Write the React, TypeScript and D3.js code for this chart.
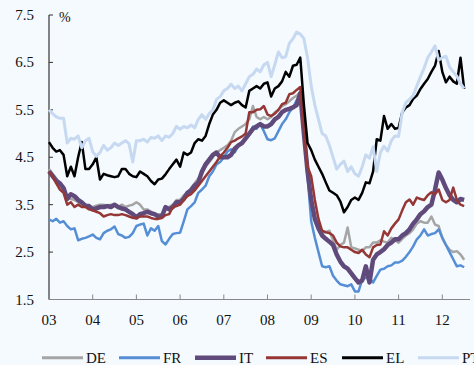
import React from 'react';
import * as d3 from 'd3';

// monthly values, Jan 2003 .. Jul 2012
const DE = [
  4.25, 4.15, 4.05, 3.95, 3.85, 3.65, 3.62, 3.6, 3.55, 3.5, 3.5, 3.45,
  3.45, 3.48, 3.5, 3.5, 3.48, 3.5, 3.5, 3.45, 3.5, 3.45, 3.48, 3.5,
  3.55, 3.5, 3.4, 3.4, 3.35, 3.3, 3.3, 3.3, 3.4, 3.45, 3.5, 3.6,
  3.6, 3.7, 3.75, 3.85, 3.95, 4.05, 4.15, 4.3, 4.4, 4.5, 4.6, 4.65,
  4.7, 4.75, 4.85, 5.03, 5.1, 5.15, 5.2, 5.3, 5.58, 5.35, 5.3, 5.35,
  5.3, 5.35, 5.45, 5.5, 5.58, 5.62, 5.68, 5.75, 5.8, 5.87, 5.0, 4.2,
  3.6, 3.2, 3.05, 2.91, 2.92, 2.95, 2.75, 2.55, 2.65, 2.7, 3.02, 2.6,
  2.58, 2.55, 2.52, 2.6, 2.6, 2.7, 2.7, 2.75, 2.72, 2.7, 2.8, 2.75,
  2.7, 2.78, 2.85, 2.9, 2.98, 3.1, 3.15, 3.12, 3.12, 3.25, 3.08, 3.05,
  2.8, 2.65, 2.55, 2.5, 2.52, 2.45, 2.34,
];
const FR = [
  3.19, 3.15, 3.2, 3.12, 3.15, 3.05, 2.98, 3.0, 2.75, 2.78, 2.8, 2.83,
  2.87, 2.8, 2.77, 2.9, 2.95, 2.98, 3.04, 2.88, 2.85, 2.8, 2.82, 2.9,
  3.05, 3.08, 3.1, 2.85, 3.0, 2.95, 3.05, 2.73, 2.66, 2.78, 2.88, 2.9,
  2.91, 3.15, 3.4, 3.47, 3.55, 3.75, 3.82, 3.9, 4.1, 4.2, 4.35, 4.4,
  4.5, 4.62, 4.67, 4.6, 4.75, 4.82, 4.88, 4.98, 5.15, 5.1, 5.2, 5.05,
  4.88, 4.86, 4.9, 5.05, 5.2, 5.3, 5.45, 5.55, 5.7, 5.83, 5.0, 4.1,
  3.15, 2.8, 2.5, 2.2, 2.18, 2.2, 2.0, 1.9, 1.82, 1.8, 1.78, 1.82,
  1.67, 1.67, 1.92, 1.96, 1.95, 1.86, 2.0, 2.13, 2.15, 2.2, 2.22, 2.28,
  2.28, 2.32, 2.4, 2.5, 2.62, 2.77, 2.85, 2.98, 2.85, 2.88, 2.9, 2.98,
  2.8, 2.65, 2.5, 2.35, 2.2, 2.22, 2.18,
];
const IT = [
  4.2, 4.1, 4.0, 3.95, 3.85, 3.62, 3.72, 3.68, 3.6, 3.55, 3.48, 3.47,
  3.4, 3.42, 3.45, 3.45, 3.47, 3.45, 3.5, 3.45, 3.42, 3.4, 3.35, 3.3,
  3.23, 3.3, 3.32, 3.35, 3.32, 3.3, 3.25, 3.25, 3.45, 3.4, 3.45, 3.55,
  3.55, 3.62, 3.75, 3.8, 3.9, 3.97, 4.2, 4.35, 4.45, 4.55, 4.6, 4.5,
  4.5, 4.5, 4.55, 4.68, 4.75, 4.8, 4.9, 5.0, 5.1, 5.15, 5.2, 5.15,
  5.15, 5.2, 5.3, 5.35, 5.45, 5.5, 5.52, 5.55, 5.6, 5.85, 5.0, 4.2,
  3.6, 3.2, 3.0, 2.85, 2.78, 2.72, 2.65, 2.45, 2.3, 2.2, 2.15, 2.05,
  1.95, 1.86, 1.9, 2.2, 1.86, 2.34, 2.45, 2.5, 2.56, 2.65, 2.7, 2.77,
  2.77, 2.85, 2.9, 2.98, 3.1, 3.19, 3.3, 3.36, 3.45, 3.5, 3.82, 4.18,
  4.03, 3.85, 3.7, 3.6, 3.55, 3.62, 3.6,
];
const ES = [
  4.2, 4.1, 3.95, 3.82, 3.75, 3.5, 3.55, 3.45, 3.5, 3.45, 3.45, 3.4,
  3.38, 3.35, 3.32, 3.25, 3.28, 3.3, 3.28, 3.28, 3.3, 3.28, 3.25, 3.22,
  3.22, 3.25, 3.25, 3.25, 3.22, 3.2, 3.2, 3.22, 3.28, 3.3, 3.45, 3.47,
  3.5, 3.6, 3.68, 3.72, 3.8, 3.9, 4.0, 4.1, 4.2, 4.3, 4.4, 4.52,
  4.6, 4.7, 4.82, 4.85, 4.9, 4.94, 5.0, 5.45, 5.45, 5.5, 5.51, 5.58,
  5.4, 5.37, 5.42, 5.5, 5.62, 5.65, 5.83, 5.85, 5.92, 5.98, 5.1, 4.3,
  4.1, 3.6, 3.2, 2.95, 2.92, 2.9, 2.85, 2.7, 2.62, 2.6, 2.6, 2.55,
  2.5, 2.48, 2.55, 2.45, 2.39, 2.6, 2.65, 2.66, 2.94, 2.85, 3.0, 3.1,
  3.19, 3.38, 3.55, 3.61, 3.5, 3.65, 3.62, 3.6, 3.7, 3.76, 3.72, 3.82,
  3.6, 3.55, 3.6, 3.86, 3.6, 3.5, 3.47,
];
const EL = [
  4.82, 4.7, 4.62, 4.65, 4.55, 4.1, 4.3, 4.1, 4.5, 4.82, 4.25, 4.25,
  4.35, 4.5, 4.03, 4.15, 4.12, 4.1, 4.08, 4.1, 4.25, 4.25, 4.15, 4.1,
  4.08, 4.2, 4.15, 4.1, 4.0, 3.93, 4.03, 4.05, 4.14, 4.25, 4.35, 4.45,
  4.3, 4.6, 4.55, 4.6, 4.8, 4.88, 4.85, 4.95, 5.2, 5.4, 5.5, 5.65,
  5.7, 5.65, 5.6, 5.65, 5.68, 5.6, 5.55, 5.9, 5.95, 6.0, 5.95, 6.05,
  6.08, 5.78, 5.95, 6.0, 6.1, 6.3, 6.2, 6.43, 6.45, 6.6, 5.6, 4.8,
  4.65, 4.45, 4.3, 4.15, 3.97, 3.8, 3.75, 3.7, 3.57, 3.34, 3.45, 3.6,
  3.65, 3.6, 3.75, 3.97, 3.95, 4.2, 4.88, 4.85, 5.37, 5.1, 5.2, 5.1,
  5.12, 5.45, 5.55, 5.6, 5.73, 5.8, 5.94, 6.05, 6.15, 6.3, 6.43, 6.74,
  6.3, 6.08, 6.2, 6.1, 6.05, 6.6, 5.94,
];
const PT = [
  5.5, 5.42, 5.35, 5.32, 5.32, 4.8, 4.9, 4.88, 4.95, 4.7, 4.85, 4.9,
  4.62, 4.52, 4.6, 4.75, 4.65, 4.7, 4.8, 4.75, 4.8, 4.85, 4.78, 4.4,
  4.85, 4.85, 4.88, 4.82, 4.92, 4.9, 4.95, 4.85, 4.95, 4.92, 5.0, 5.15,
  5.09, 5.15, 5.12, 5.18, 5.12, 5.3, 5.4, 5.3, 5.42, 5.5, 5.72, 5.78,
  5.9, 5.95, 6.04, 5.95, 6.0, 5.9, 6.05, 6.2, 6.25, 6.36, 6.3, 6.45,
  6.5, 6.2, 6.45, 6.72, 6.6, 6.62, 6.9, 7.0, 7.14, 7.1, 7.0, 6.6,
  6.0, 5.6, 5.3, 5.0, 4.95, 4.75, 4.5, 4.25, 4.35, 4.42, 4.2, 4.3,
  4.15, 4.1, 4.3, 4.55, 4.48, 4.72, 4.2, 4.6, 4.73, 4.63, 4.85, 4.95,
  4.94, 5.45, 5.65, 5.72, 5.8, 6.0, 6.2, 6.38, 6.6, 6.72, 6.85, 6.55,
  6.6, 6.63, 6.4, 6.3, 6.21, 6.05, 5.95,
];

const yTicks = [1.5, 2.5, 3.5, 4.5, 5.5, 6.5, 7.5];
const years = [2003, 2004, 2005, 2006, 2007, 2008, 2009, 2010, 2011, 2012];

const series = [
  { name: 'DE', values: DE, color: '#a5a5a5', width: 2.5 },
  { name: 'FR', values: FR, color: '#558ed5', width: 2.5 },
  { name: 'IT', values: IT, color: '#604a7b', width: 4.5 },
  { name: 'ES', values: ES, color: '#953735', width: 2.5 },
  { name: 'EL', values: EL, color: '#000000', width: 2.5 },
  { name: 'PT', values: PT, color: '#c6d9f1', width: 3 },
];

const font = "'Liberation Serif', 'Times New Roman', serif";

export default function App() {
  const x = d3.scaleLinear().domain([2003, 2012]).range([49, 442.3]);
  const y = d3.scaleLinear().domain([1.5, 7.5]).range([299.5, 15]);
  const line = d3
    .line<number>()
    .x((_, i) => x(2003 + i / 12))
    .y((d) => y(d));

  const legendX = [42, 119, 195, 266, 342, 418];

  return (
    <svg
      width={474}
      height={365}
      style={{ position: 'absolute', left: 0, top: 0 }}
      fontFamily={font}
    >
      <rect width={474} height={365} fill="#f5faff" />

      {/* y axis */}
      <line x1={49} x2={49} y1={y(7.5)} y2={y(1.5)} stroke="#333" strokeWidth={1.2} />
      {yTicks.map((t) => (
        <g key={t}>
          <line x1={49} x2={53} y1={y(t)} y2={y(t)} stroke="#333" strokeWidth={1} />
          <text x={34} y={y(t) + 5} textAnchor="end" fontSize={15} fill="#111">
            {t.toFixed(1)}
          </text>
        </g>
      ))}
      <text x={59} y={22} fontSize={14} fill="#111">%</text>

      {/* x axis */}
      <line x1={49} x2={470} y1={y(1.5)} y2={y(1.5)} stroke="#888" strokeWidth={1.2} />
      {years.map((yr) => (
        <g key={yr}>
          <line x1={x(yr)} x2={x(yr)} y1={y(1.5)} y2={y(1.5) - 5} stroke="#888" strokeWidth={1} />
          <text x={x(yr)} y={325} textAnchor="middle" fontSize={15} fill="#111">
            {String(yr).slice(2)}
          </text>
        </g>
      ))}

      {series.map((s) => (
        <path
          key={s.name}
          d={line(s.values) || ''}
          fill="none"
          stroke={s.color}
          strokeWidth={s.width}
          strokeLinejoin="round"
        />
      ))}

      {/* legend */}
      {series.map((s, i) => (
        <g key={s.name}>
          <line
            x1={legendX[i]}
            x2={legendX[i] + 41}
            y1={357.7}
            y2={357.7}
            stroke={s.color}
            strokeWidth={s.name === 'IT' ? 4.5 : 3}
          />
          <text x={legendX[i] + 44} y={363} fontSize={15} fill="#111">
            {s.name}
          </text>
        </g>
      ))}
    </svg>
  );
}
